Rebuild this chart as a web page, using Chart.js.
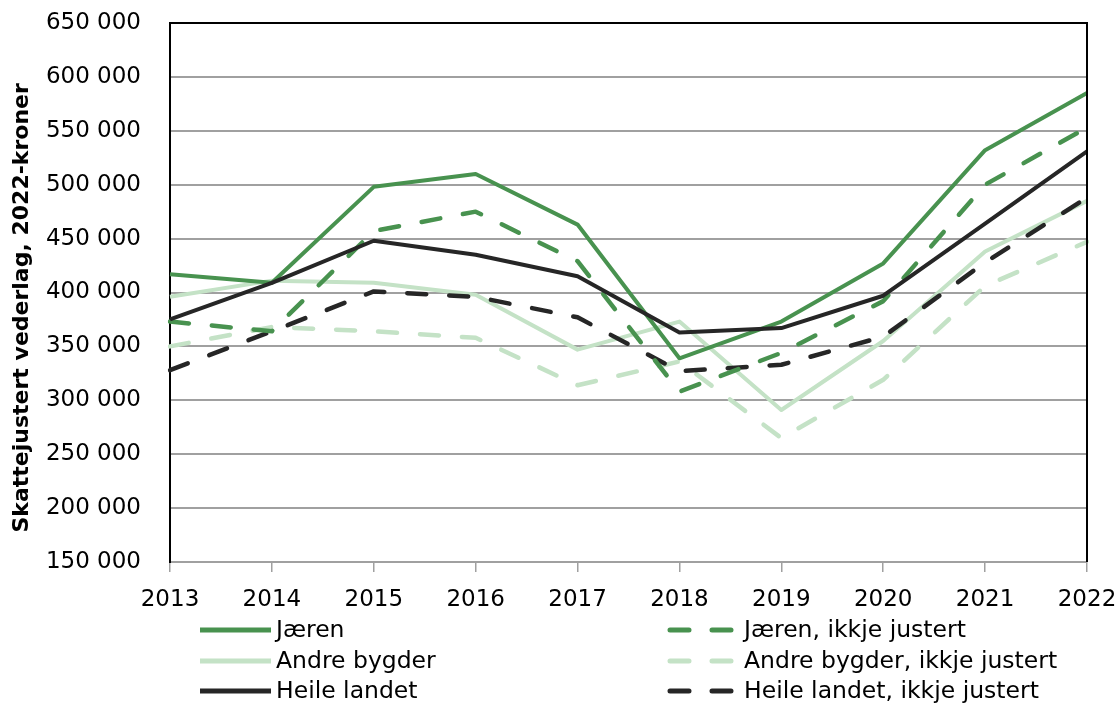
<!DOCTYPE html>
<html>
<head>
<meta charset="utf-8">
<script src="https://cdn.jsdelivr.net/npm/chart.js@4.4.0/dist/chart.umd.min.js"></script>
<style>
  html, body { margin: 0; padding: 0; background: #fff; }
  #wrap { width: 1117px; height: 706px; }
</style>
</head>
<body>
<div id="wrap"><canvas id="chart" width="1117" height="706"></canvas></div>
<script>
const years = ['2013', '2014', '2015', '2016', '2017', '2018', '2019', '2020', '2021', '2022'];

const jaeren = [417000, 409000, 498000, 510000, 463000, 339000, 373000, 427000, 532000, 585000];
const jaerenRaw = [373000, 364000, 457000, 475000, 429000, 308000, 344000, 392000, 500000, 553000];
const andre = [396000, 411000, 409000, 398000, 347000, 373000, 291000, 355000, 438000, 485000];
const andreRaw = [350000, 368000, 364000, 358000, 314000, 336000, 265000, 319000, 406000, 447000];
const heile = [375000, 409000, 448000, 435000, 415000, 363000, 367000, 397000, 464000, 531000];
const heileRaw = [328000, 364000, 401000, 396000, 377000, 327000, 333000, 359000, 428000, 488000];

const seriesNames = [
    'Jæren', 'Jæren, ikkje justert',
    'Andre bygder', 'Andre bygder, ikkje justert',
    'Heile landet', 'Heile landet, ikkje justert',
];

const darkGreen = '#48924f';
const lightGreen = '#c4e2c6';
const black = '#262626';
const gridGray = '#a0a0a0';
const dash = [19, 23];
const fontFamily = '"DejaVu Sans"';

Chart.defaults.font.family = fontFamily;
Chart.defaults.font.size = 23;
Chart.defaults.color = '#000';

function line(label, data, color, dashed, order) {
    return {
        label,
        data,
        borderColor: color,
        backgroundColor: color,
        borderWidth: dashed ? 4.5 : 4,
        borderDash: dashed ? dash : [],
        borderCapStyle: dashed ? 'round' : 'butt',
        borderJoinStyle: 'round',
        pointRadius: 0,
        tension: 0,
        fill: false,
        order,
    };
}

// top and right frame of the plot area
const framePlugin = {
    id: 'frame',
    afterDatasetsDraw(chart) {
        const { ctx, chartArea: a } = chart;
        ctx.save();
        ctx.strokeStyle = '#000';
        ctx.lineWidth = 2;
        ctx.beginPath();
        ctx.moveTo(a.left, a.top);
        ctx.lineTo(a.right, a.top);
        ctx.lineTo(a.right, a.bottom);
        ctx.stroke();
        ctx.restore();
    },
};

// two-column legend under the axis
const legendPlugin = {
    id: 'twoColLegend',
    afterDraw(chart) {
        const { ctx } = chart;
        const cols = [200, 668];
        const rows = [630, 661, 691];
        ctx.save();
        ctx.font = '23.5px ' + fontFamily;
        ctx.textBaseline = 'middle';
        ctx.fillStyle = '#000';
        chart.data.datasets.forEach((ds, i) => {
            const x = cols[i % 2];
            const y = rows[Math.floor(i / 2)];
            ctx.save();
            ctx.strokeStyle = ds.borderColor;
            ctx.lineWidth = 5;
            ctx.setLineDash(ds.borderDash);
            ctx.lineCap = ds.borderCapStyle;
            ctx.beginPath();
            if (ds.borderDash.length) {
                ctx.moveTo(x + 2, y);
                ctx.lineTo(x + 64, y);
            } else {
                ctx.moveTo(x, y);
                ctx.lineTo(x + 71, y);
            }
            ctx.stroke();
            ctx.restore();
            ctx.fillText(ds.label, x + 76, y + 1);
        });
        ctx.restore();
    },
};

new Chart(document.getElementById('chart'), {
    type: 'line',
    data: {
        labels: years,
        datasets: [
            line(seriesNames[0], jaeren, darkGreen, false, 2),
            line(seriesNames[1], jaerenRaw, darkGreen, true, 3),
            line(seriesNames[2], andre, lightGreen, false, 5),
            line(seriesNames[3], andreRaw, lightGreen, true, 6),
            line(seriesNames[4], heile, black, false, 1),
            line(seriesNames[5], heileRaw, black, true, 4),
        ],
    },
    options: {
        responsive: false,
        animation: false,
        layout: { padding: { top: 23, right: 30, left: 0, bottom: 0 } },
        plugins: {
            legend: { display: false },
            tooltip: { enabled: false },
        },
        scales: {
            x: {
                offset: false,
                afterFit: (s) => {
                    s.height = 144;
                    s.paddingLeft = 0;
                    s.paddingRight = 0;
                },
                grid: {
                    drawOnChartArea: false,
                    drawTicks: true,
                    tickLength: 10,
                    color: gridGray,
                    lineWidth: 1.5,
                },
                border: { color: gridGray, width: 2 },
                ticks: { padding: 14, maxRotation: 0, autoSkip: false },
            },
            y: {
                min: 150000,
                max: 650000,
                afterFit: (s) => {
                    s.width = 170;
                    s.paddingTop = 0;
                    s.paddingBottom = 0;
                },
                grid: { color: gridGray, lineWidth: 2, drawTicks: false },
                border: { color: '#000', width: 2 },
                ticks: {
                    stepSize: 50000,
                    padding: 29,
                    callback: (v) => String(v).replace(/\B(?=(\d{3})+(?!\d))/g, ' '),
                },
                title: {
                    display: true,
                    // trailing spaces nudge the title down a bit, like the original
                    text: 'Skattejustert vederlag, 2022-kroner    ',
                    font: { size: 22, weight: 'bold' },
                    padding: { top: 9, bottom: 0 },
                },
            },
        },
    },
    plugins: [framePlugin, legendPlugin],
});
</script>
</body>
</html>
